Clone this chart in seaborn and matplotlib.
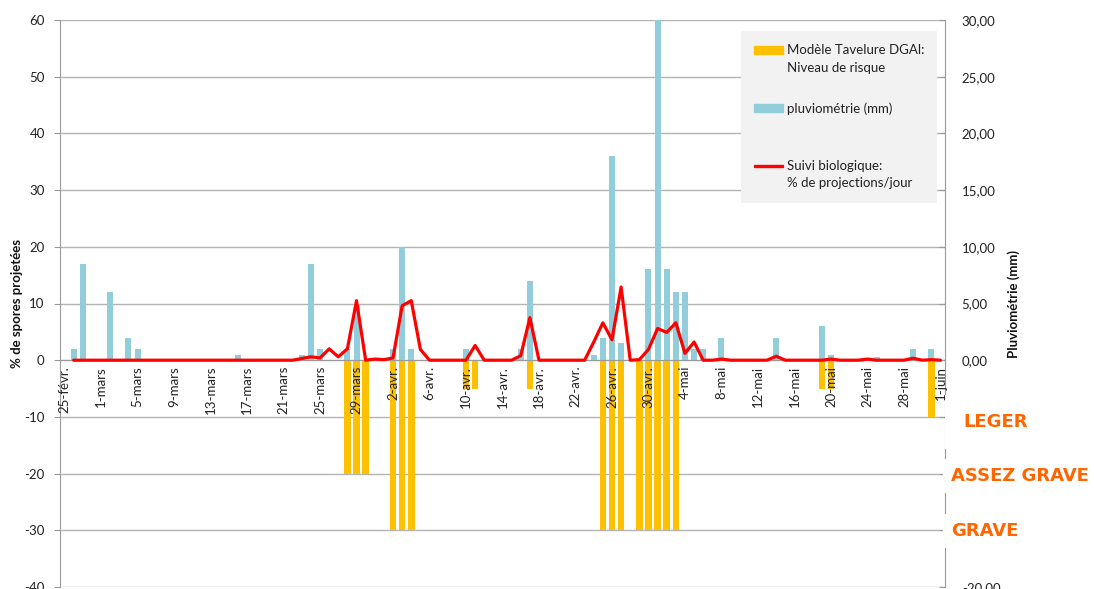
import numpy as np
import pandas as pd
import matplotlib
matplotlib.use("Agg")
import matplotlib.pyplot as plt
import matplotlib.patches as mpatches
import matplotlib.transforms as mtransforms
from matplotlib.legend_handler import HandlerPatch
import seaborn as sns

# ---------------- data (one value per day, 25 Feb -> 1 June) ----------------
tick_labels = ["25-févr.", "1-mars", "5-mars", "9-mars", "13-mars", "17-mars",
               "21-mars", "25-mars", "29-mars", "2-avr.", "6-avr.", "10-avr.",
               "14-avr.", "18-avr.", "22-avr.", "26-avr.", "30-avr.", "4-mai",
               "8-mai", "12-mai", "16-mai", "20-mai", "24-mai", "28-mai", "1-juin"]

# pluviométrie (mm) - right axis
pluvio = [0, 1, 8.5, 0, 0, 6, 0, 2, 1, 0,
          0, 0, 0, 0, 0, 0, 0, 0, 0, 0.5,
          0, 0, 0, 0, 0, 0, 0.5, 8.5, 1, 0,
          0, 1, 5, 0, 0, 0, 1, 10, 1, 0,
          0, 0, 0, 0, 1, 0, 0, 0, 0, 0,
          1, 7, 0, 0, 0, 0, 0, 0, 0.5, 2,
          18, 1.5, 0, 0, 8, 30, 8, 6, 6, 1,
          1, 0, 2, 0, 0, 0, 0, 0, 2, 0,
          0, 0, 0, 3, 0.5, 0, 0, 0, 0, 0.3,
          0, 0, 0, 1, 0, 1, 0]

# Modèle Tavelure DGAl : niveau de risque (left axis, negative)
risque = [0, 0, 0, 0, 0, 0, 0, 0, 0, 0,
          0, 0, 0, 0, 0, 0, 0, 0, 0, 0,
          0, 0, 0, 0, 0, 0, 0, 0, 0, 0,
          0, -20, -20, -20, 0, 0, -30, -30, -30, 0,
          0, 0, 0, 0, -5, -5, 0, 0, 0, 0,
          0, -5, 0, 0, 0, 0, 0, 0, 0, -30,
          -30, -30, 0, -30, -30, -30, -30, -30, 0, 0,
          0, 0, 0, 0, 0, 0, 0, 0, 0, 0,
          0, 0, 0, -5, -5, 0, 0, 0, 0, 0,
          0, 0, 0, 0, 0, -10, 0]

# Suivi biologique : % de projections / jour (left axis)
suivi = [np.nan, 0, 0, 0, 0, 0, 0, 0, 0, 0,
         0, 0, 0, 0, 0, 0, 0, 0, 0, 0,
         0, 0, 0, 0, 0, 0, 0.3, 0.6, 0.4, 2.0,
         0.6, 2.0, 10.5, 0, 0.2, 0.1, 0.4, 9.6, 10.5, 1.9,
         0, 0, 0, 0, 0, 2.6, 0, 0, 0, 0,
         0.8, 7.5, 0, 0, 0, 0, 0, 0, 3.2, 6.6,
         3.6, 12.9, 0, 0.1, 1.9, 5.6, 4.9, 6.6, 1.2, 3.2,
         0, 0, 0.2, 0, 0, 0, 0, 0, 0.7, 0,
         0, 0, 0, 0, 0.2, 0, 0, 0, 0.2, 0,
         0, 0, 0, 0.35, 0, 0.1, 0]

risk_levels = ["LEGER", "ASSEZ GRAVE", "GRAVE"]
risk_level_y = [-10.9, -20.4, -30.1]

df = pd.DataFrame({"jour": np.arange(len(pluvio)), "pluvio": pluvio,
                   "risque": risque, "suivi": suivi})

# ---------------- style ----------------
sns.set_style("white")
plt.rcParams["font.family"] = ["Lato", "DejaVu Sans"]

BLUE = "#92CDDC"
ORANGE = "#FFC000"
RED = "#FF0000"
GRAY = "#9A9A9A"
GRID = "#B3B3B3"

W, H = 1094, 589
fig = plt.figure(figsize=(W / 100, H / 100), dpi=100, facecolor="white")
ax = fig.add_axes([60 / W, 2 / H, 885 / W, 567 / H])
ax2 = ax.twinx()

# pluviométrie bars on right axis
sns.barplot(data=df, x="jour", y="pluvio", ax=ax2, native_scale=True,
            color=BLUE, width=0.66, saturation=1, linewidth=0, errorbar=None)
ax.set_zorder(ax2.get_zorder() + 1)
ax.patch.set_visible(False)

# risk bars + biological follow-up on left axis
sns.barplot(data=df, x="jour", y="risque", ax=ax, native_scale=True,
            color=ORANGE, width=0.72, saturation=1, linewidth=0, errorbar=None)
sns.lineplot(data=df, x="jour", y="suivi", ax=ax, color=RED, linewidth=2.3,
             solid_joinstyle="round", zorder=4)

# ---------------- axes ----------------
ax.set_xlim(-0.5, len(pluvio) - 0.5)
ax.set_ylim(-40, 60)
ax2.set_ylim(-20, 30)

ax.set_yticks(np.arange(-40, 61, 10))
ax.set_yticklabels([f"{v:d}" for v in np.arange(-40, 61, 10)])
r_ticks = np.arange(-20, 31, 5)
ax2.set_yticks(r_ticks)
# labels -15/-10/-5 are hidden behind the risk level boxes in the original
ax2.set_yticklabels([("" if -20 < v < 0 else f"{v:.2f}".replace(".", ","))
                     for v in r_ticks])

ax.set_xticks(np.arange(0, len(pluvio), 4))
ax.set_xticklabels(tick_labels)
ax.set_xticks(np.arange(3.5, len(pluvio) - 1, 4), minor=True)
ax.tick_params(axis="x", which="major", length=0, pad=4, labelsize=9.5,
               colors="#222222", labelrotation=90)
for lbl in ax.get_xticklabels():
    lbl.set_va("top")
    lbl.set_ha("center")
ax.tick_params(axis="x", which="minor", length=7, direction="inout",
               color=GRAY, width=1)
ax.tick_params(axis="y", length=4, direction="out", color=GRAY, pad=7,
               labelsize=9.5, labelcolor="#222222")
ax2.tick_params(axis="y", length=4, direction="in", color=GRAY, pad=12,
                labelsize=9.5, labelcolor="#222222")
ax.set_axisbelow(False)
ax.xaxis.set_zorder(5)
ax.spines["bottom"].set_zorder(3)

ax2.yaxis.grid(True, color=GRID, linewidth=1)
ax2.set_axisbelow(True)
ax.grid(False)

for s in ["top", "right"]:
    ax.spines[s].set_visible(False)
ax.spines["bottom"].set_position(("data", 0))
ax.spines["bottom"].set_color(GRAY)
ax.spines["left"].set_color(GRAY)
for s in ["top", "left", "bottom"]:
    ax2.spines[s].set_visible(False)
ax2.spines["right"].set_color(GRAY)

ax.set_xlabel("")
ax.set_ylabel("% de spores projetées", fontsize=9.5, fontweight="bold",
              labelpad=1, color="#111111")
ax2.set_ylabel("Pluviométrie (mm)", fontsize=9.5, fontweight="bold",
               labelpad=5, color="#111111")

# ---------------- legend ----------------
fs_leg = 9.5
lsp = 1.53


def shifted_patch(shift_pts, hgt=None):
    def make(legend, orig_handle, xdescent, ydescent, width, height, fontsize):
        h = height if hgt is None else hgt
        y0 = -ydescent + (height - h) / 2 + shift_pts
        return mpatches.Rectangle((-xdescent, y0), width, h)
    return make


h_risk = mpatches.Patch(color=ORANGE)
h_rain = mpatches.Patch(color=BLUE)
h_bio = mpatches.Patch(color=RED)
shift = 0.5 * lsp * fs_leg * 0.93
leg = ax.legend(handles=[h_risk, h_rain, h_bio],
                labels=["Modèle Tavelure DGAl:\nNiveau de risque",
                        "pluviométrie (mm)\n",
                        "Suivi biologique:\n% de projections/jour"],
                handler_map={h_risk: HandlerPatch(patch_func=shifted_patch(shift)),
                             h_rain: HandlerPatch(patch_func=shifted_patch(shift)),
                             h_bio: HandlerPatch(patch_func=shifted_patch(shift, 1.8))},
                loc="upper left",
                bbox_to_anchor=(741 / W, 1 - 37 / H, 196 / W, 0.01),
                bbox_transform=fig.transFigure, mode="expand",
                borderaxespad=0, borderpad=1.0, fontsize=fs_leg,
                handlelength=2.2, handleheight=0.6, handletextpad=0.3,
                labelspacing=2.15, frameon=True, fancybox=False)
leg.get_frame().set_facecolor("#F2F2F2")
leg.get_frame().set_edgecolor("none")
leg.get_frame().set_alpha(1)
leg.set_zorder(20)
for t in leg.get_texts():
    t.set_linespacing(lsp)
    t.set_color("#222222")

# ---------------- risk level annotations ----------------
trans = mtransforms.blended_transform_factory(ax.transAxes, ax.transData)
x_pos = [1.0203, 1.0068, 1.0068]
pads = [1.0, 0.45, 0.45]
for lab, yv, xp, pd_ in zip(risk_levels, risk_level_y, x_pos, pads):
    ax.text(xp, yv, lab, transform=trans, ha="left", va="center",
            fontsize=13, fontweight="bold", color="#FF6600",
            family="DejaVu Sans", clip_on=False, zorder=10,
            bbox=dict(boxstyle=f"square,pad={pd_}", facecolor="white",
                      edgecolor="none"))

fig.savefig("out.png", dpi=100, facecolor="white")
